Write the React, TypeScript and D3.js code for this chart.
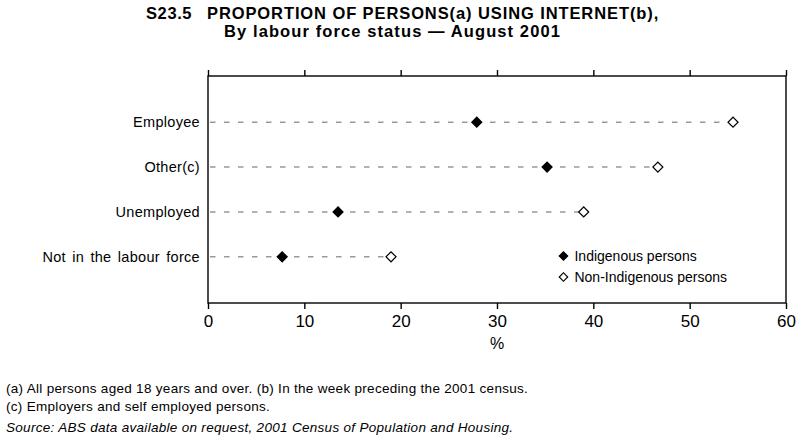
import { useEffect, useRef } from "react";
import * as d3 from "d3";

const categories = ["Employee", "Other(c)", "Unemployed", "Not in the labour force"];
const indigenous = [27.9, 35.2, 13.5, 7.7];
const nonIndigenous = [54.5, 46.7, 39.0, 19.0];
const xTicks = [0, 10, 20, 30, 40, 50, 60];
const seriesNames = ["Indigenous persons", "Non-Indigenous persons"];

const titleNumber = "S23.5";
const titleLines = [
  "PROPORTION OF PERSONS(a) USING INTERNET(b),",
  "By labour force status \u2014 August 2001",
];
const footnotes = [
  "(a) All persons aged 18 years and over.  (b) In the week preceding the 2001 census.",
  "(c) Employers and self employed persons.",
];
const source = "Source: ABS data available on request, 2001 Census of Population and Housing.";

const W = 797;
const H = 443;
const FONT = "'Liberation Sans', Arial, sans-serif";

const App = () => {
  const svgRef = useRef<SVGSVGElement>(null);

  useEffect(() => {
    const svg = d3.select(svgRef.current);
    svg.selectAll("*").remove();

    const left = 208;
    const right = 786;
    const top = 76;
    const bottom = 303;

    const x = d3.scaleLinear().domain([0, 60]).range([left, right]);
    const y = d3
      .scalePoint<string>()
      .domain(categories)
      .range([top, bottom])
      .padding(1.03);

    // titles
    const title = svg
      .append("g")
      .attr("font-family", FONT)
      .attr("font-weight", "bold")
      .attr("font-size", 16.5);
    title.append("text").attr("x", 146).attr("y", 19).attr("letter-spacing", 0.6).text(titleNumber);
    title.append("text").attr("x", 207).attr("y", 19).attr("letter-spacing", 0.9).text(titleLines[0]);
    title.append("text").attr("x", 224).attr("y", 37).attr("letter-spacing", 1.1).text(titleLines[1]);

    // dashed guide lines
    svg
      .append("g")
      .selectAll("line")
      .data(categories)
      .enter()
      .append("line")
      .attr("x1", left + 2)
      .attr("x2", (d, i) => x(Math.max(indigenous[i], nonIndigenous[i])))
      .attr("y1", (d) => y(d)!)
      .attr("y2", (d) => y(d)!)
      .attr("stroke", "#999")
      .attr("stroke-width", 1.6)
      .attr("stroke-dasharray", "5.5,8.5");

    // frame
    svg
      .append("rect")
      .attr("x", left)
      .attr("y", top)
      .attr("width", right - left)
      .attr("height", bottom - top)
      .attr("fill", "none")
      .attr("stroke", "#000")
      .attr("stroke-width", 1.4);

    const bottomAxis = svg
      .append("g")
      .attr("transform", `translate(0,${bottom})`)
      .call(d3.axisBottom(x).tickValues(xTicks).tickSize(6).tickSizeOuter(0).tickPadding(6));
    bottomAxis.select(".domain").remove();
    bottomAxis.selectAll("line").attr("stroke-width", 1.4);
    bottomAxis
      .selectAll("text")
      .attr("font-family", FONT)
      .attr("font-size", 17)
      .attr("fill", "#000");

    const topAxis = svg
      .append("g")
      .attr("transform", `translate(0,${top})`)
      .call(d3.axisTop(x).tickValues(xTicks).tickSize(6).tickSizeOuter(0).tickFormat(() => ""));
    topAxis.select(".domain").remove();
    topAxis.selectAll("line").attr("stroke-width", 1.4);

    // category labels
    svg
      .append("g")
      .selectAll("text")
      .data(categories)
      .enter()
      .append("text")
      .attr("x", left - 8)
      .attr("y", (d) => y(d)!)
      .attr("dy", "0.35em")
      .attr("text-anchor", "end")
      .attr("font-family", FONT)
      .attr("font-size", 14.5)
      .attr("letter-spacing", 0.3)
      .attr("word-spacing", 2)
      .text((d) => d);

    const diamond = d3.symbol().type(d3.symbolSquare).size(50);

    // markers
    svg
      .append("g")
      .selectAll("path")
      .data(categories)
      .enter()
      .append("path")
      .attr("d", diamond)
      .attr("transform", (d, i) => `translate(${x(nonIndigenous[i])},${y(d)}) rotate(45)`)
      .attr("fill", "#fff")
      .attr("stroke", "#000")
      .attr("stroke-width", 1.2);
    svg
      .append("g")
      .selectAll("path")
      .data(categories)
      .enter()
      .append("path")
      .attr("d", diamond)
      .attr("transform", (d, i) => `translate(${x(indigenous[i])},${y(d)}) rotate(45)`)
      .attr("fill", "#000")
      .attr("stroke", "#000")
      .attr("stroke-width", 1.2);

    // legend
    const legendSymbol = d3.symbol().type(d3.symbolSquare).size(36);
    const legend = svg
      .append("g")
      .selectAll("g")
      .data(seriesNames)
      .enter()
      .append("g")
      .attr("transform", (d, i) => `translate(${x(36.9)},${256 + i * 21})`);
    legend
      .append("path")
      .attr("d", legendSymbol)
      .attr("transform", "rotate(45)")
      .attr("fill", (d, i) => (i === 0 ? "#000" : "#fff"))
      .attr("stroke", "#000")
      .attr("stroke-width", 1.2);
    legend
      .append("text")
      .attr("x", 11)
      .attr("dy", "0.35em")
      .attr("font-family", FONT)
      .attr("font-size", 14)
      .text((d) => d);

    // x axis title
    svg
      .append("text")
      .attr("x", x(30))
      .attr("y", 349)
      .attr("text-anchor", "middle")
      .attr("font-family", FONT)
      .attr("font-size", 16)
      .text("%");

    // footnotes
    footnotes.forEach((t, i) => {
      svg
        .append("text")
        .attr("x", 6)
        .attr("y", 393 + i * 18)
        .attr("font-family", FONT)
        .attr("font-size", 13.5)
        .attr("letter-spacing", 0.3)
        .text(t);
    });
    svg
      .append("text")
      .attr("x", 6)
      .attr("y", 432)
      .attr("font-family", FONT)
      .attr("font-style", "italic")
      .attr("font-size", 13.5)
      .attr("letter-spacing", 0.3)
      .text(source);
  }, []);

  return (
    <svg
      ref={svgRef}
      width={W}
      height={H}
      style={{ position: "absolute", left: 0, top: 0, background: "#fff" }}
    ></svg>
  );
};

export default App;
